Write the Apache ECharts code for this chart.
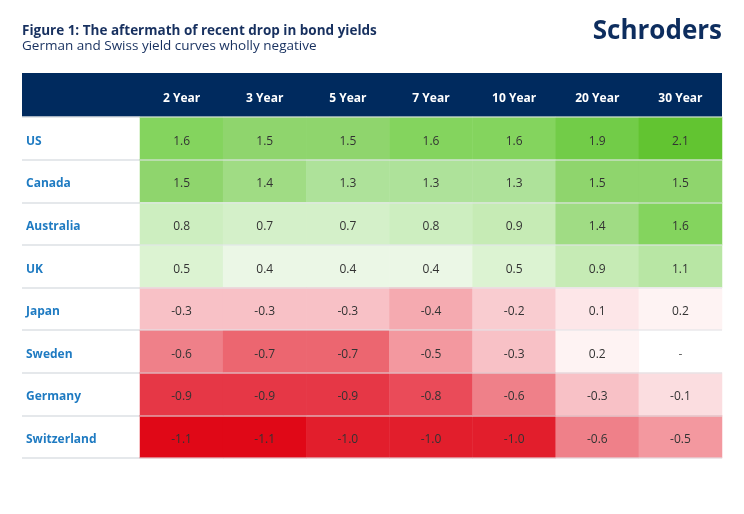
<!DOCTYPE html>
<html>
<head>
<meta charset="utf-8">
<script src="https://cdn.jsdelivr.net/npm/echarts@6/dist/echarts.min.js"></script>
<style>html,body{margin:0;padding:0;background:#fff}#c{width:744px;height:514px}</style>
</head>
<body>
<div id="c"></div>
<script>
var tenors = ['2 Year','3 Year','5 Year','7 Year','10 Year','20 Year','30 Year'];
var countries = ['US','Canada','Australia','UK','Japan','Sweden','Germany','Switzerland'];
var US = [1.6,1.5,1.5,1.6,1.6,1.9,2.1];
var Canada = [1.5,1.4,1.3,1.3,1.3,1.5,1.5];
var Australia = [0.8,0.7,0.7,0.8,0.9,1.4,1.6];
var UK = [0.5,0.4,0.4,0.4,0.5,0.9,1.1];
var Japan = [-0.3,-0.3,-0.3,-0.4,-0.2,0.1,0.2];
var Sweden = [-0.6,-0.7,-0.7,-0.5,-0.3,0.2,null];
var Germany = [-0.9,-0.9,-0.9,-0.8,-0.6,-0.3,-0.1];
var Switzerland = [-1.1,-1.1,-1.0,-1.0,-1.0,-0.6,-0.5];
var rows = [US,Canada,Australia,UK,Japan,Sweden,Germany,Switzerland];

var scaleColors = ['#e00817','#e21e2c','#e63746','#ea4b59','#ec6670','#ef8089','#f3989f','#f5aab0','#f8c1c6','#f9ccd0','#fbdde0','#fce2e4','#fde6e8','#fef3f3','#f5fbf2','#ebf7e6','#dcf3d2','#d8f1cd','#d4f0c9','#cdeec0','#c6ebb5','#bfe8ac','#b8e6a4','#b3e49f','#aee29a','#a0dc84','#8fd56d','#84d45e','#7dd156','#77ce4f','#72cc48','#6ac83c','#62c431'];

var heat = [], missing = [];
rows.forEach(function(r, yi){
  r.forEach(function(v, xi){
    if (v === null) missing.push([xi, yi]);
    else heat.push([xi, yi, v]);
  });
});

var FONT = '"Open Sans", sans-serif';
var chart = echarts.init(document.getElementById('c'));
chart.setOption({
  animation: false,
  backgroundColor: '#fff',
  title: [
    {text: 'Figure 1: The aftermath of recent drop in bond yields', left: 17, top: 19,
     textStyle: {fontFamily: FONT, fontSize: 13.5, fontWeight: 'bold', color: '#17305f'}},
    {text: 'German and Swiss yield curves wholly negative', left: 17, top: 34,
     textStyle: {fontFamily: FONT, fontSize: 13.5, fontWeight: 'normal', color: '#17305f'}},
    {text: 'Schroders', right: 17, top: 14,
     textStyle: {fontFamily: FONT, fontSize: 26, fontWeight: 'bold', color: '#0d2d5e'}}
  ],
  graphic: [
    {type: 'rect', left: 22, top: 73, shape: {width: 700, height: 44}, z: -10,
     style: {fill: '#002a5e'}}
  ],
  visualMap: {show: false, type: 'continuous', min: -1.1, max: 2.1, dimension: 2,
    seriesIndex: 0, inRange: {color: scaleColors}},
  grid: [
    {left: 22, width: 118, top: 117, bottom: 56},
    {left: 140, right: 22, top: 117, bottom: 56}
  ],
  xAxis: [
    {type: 'value', gridIndex: 0, show: false, min: 0, max: 1},
    {type: 'category', gridIndex: 1, data: tenors, position: 'top',
     axisLine: {show: false}, axisTick: {show: false}, splitLine: {show: false},
     axisLabel: {color: '#fff', fontFamily: FONT, fontSize: 12, fontWeight: 'bold', margin: 12}}
  ],
  yAxis: [
    {type: 'category', gridIndex: 0, data: countries, inverse: true,
     axisLine: {show: false}, axisTick: {show: false},
     splitLine: {show: true, lineStyle: {color: '#dde0e4', width: 1.5}},
     axisLabel: {inside: true, margin: 4,
       formatter: function(v){ return '{a|' + v + '}'; },
       rich: {a: {color: '#1f7bc2', fontFamily: FONT, fontSize: 12, fontWeight: 'bold', padding: [6, 0, 0, 0]}}}},
    {type: 'category', gridIndex: 1, data: countries, inverse: true, z: 5,
     axisLine: {show: false}, axisTick: {show: false}, axisLabel: {show: false},
     splitLine: {show: true, lineStyle: {color: 'rgba(225,228,232,0.7)', width: 1.5}}}
  ],
  series: [
    {type: 'heatmap', xAxisIndex: 1, yAxisIndex: 1, data: heat,
     label: {show: true, color: '#333', fontFamily: FONT, fontSize: 12, offset: [0, 3],
       formatter: function(p){ return p.value[2].toFixed(1); }}},
    {type: 'scatter', xAxisIndex: 1, yAxisIndex: 1, data: missing, symbolSize: 0,
     label: {show: true, position: 'inside', formatter: '-', color: '#333', fontFamily: FONT,
       fontSize: 12, offset: [0, 3]}}
  ]
});
</script>
</body>
</html>
